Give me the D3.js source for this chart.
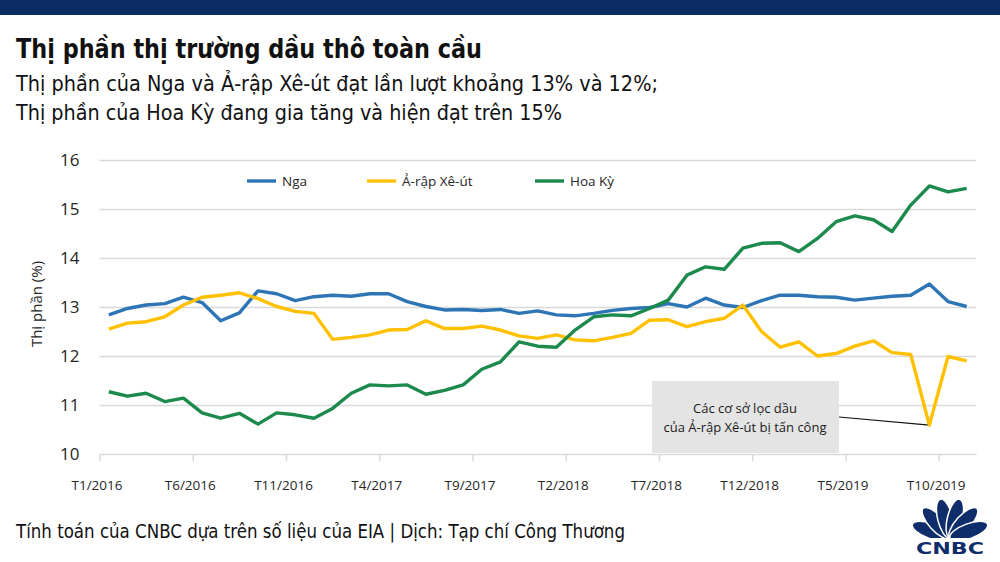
<!DOCTYPE html>
<html>
<head>
<meta charset="utf-8">
<script src="https://cdn.jsdelivr.net/npm/d3@7"></script>
<style>
  body { margin: 0; background: #fff; }
  svg { display: block; }
  .cond { font-family: "Liberation Sans Narrow", "DejaVu Sans Condensed", "Open Sans", sans-serif; }
  .sans { font-family: "Open Sans", "Noto Sans", sans-serif; }
</style>
</head>
<body>
<div id="chart"></div>
<script>
// thang T1/2016 .. T11/2019
const months = [
  "T1/2016","T2/2016","T3/2016","T4/2016","T5/2016","T6/2016","T7/2016","T8/2016","T9/2016","T10/2016","T11/2016","T12/2016",
  "T1/2017","T2/2017","T3/2017","T4/2017","T5/2017","T6/2017","T7/2017","T8/2017","T9/2017","T10/2017","T11/2017","T12/2017",
  "T1/2018","T2/2018","T3/2018","T4/2018","T5/2018","T6/2018","T7/2018","T8/2018","T9/2018","T10/2018","T11/2018","T12/2018",
  "T1/2019","T2/2019","T3/2019","T4/2019","T5/2019","T6/2019","T7/2019","T8/2019","T9/2019","T10/2019","T11/2019"
];
const nga = [12.84,12.97,13.04,13.07,13.20,13.09,12.72,12.88,13.33,13.27,13.13,13.21,
  13.24,13.22,13.27,13.27,13.11,13.01,12.94,12.95,12.93,12.95,12.87,12.92,
  12.84,12.82,12.87,12.93,12.97,12.99,13.07,13.00,13.18,13.04,12.99,13.13,
  13.24,13.24,13.21,13.20,13.14,13.18,13.22,13.24,13.47,13.11,13.01];
const arap = [12.55,12.67,12.70,12.80,13.04,13.20,13.24,13.29,13.17,13.01,12.91,12.87,
  12.34,12.38,12.43,12.53,12.54,12.72,12.56,12.56,12.61,12.53,12.41,12.36,
  12.43,12.33,12.31,12.38,12.46,12.73,12.74,12.60,12.70,12.77,13.04,12.50,
  12.18,12.29,12.00,12.05,12.20,12.31,12.07,12.03,10.59,11.99,11.90];
const hoaky = [11.27,11.18,11.24,11.07,11.14,10.84,10.73,10.83,10.61,10.84,10.80,10.73,
  10.93,11.24,11.41,11.39,11.41,11.22,11.30,11.41,11.73,11.88,12.29,12.20,
  12.18,12.53,12.80,12.84,12.82,12.97,13.14,13.65,13.82,13.77,14.20,14.30,
  14.31,14.13,14.40,14.74,14.86,14.78,14.54,15.08,15.47,15.35,15.42];
const yTicks = [10,11,12,13,14,15,16];
const xTickIdx = [0,5,10,15,20,25,30,35,40,45];
const seriesNames = ["Nga","Ả-rập Xê-út","Hoa Kỳ"];
const seriesColors = ["#2e75b6","#ffc000","#1b8a4c"];

const W = 1000, H = 562;
const plotL = 99.5, plotR = 976, plotT = 160, plotB = 454;

const svg = d3.select("#chart").append("svg")
  .attr("width", W).attr("height", H);
svg.append("rect").attr("width", W).attr("height", H).attr("fill", "#fff");

// thanh tren cung
svg.append("rect").attr("x", 0).attr("y", 0).attr("width", W).attr("height", 15).attr("fill", "#0b2b63");

// tieu de
svg.append("text").attr("class", "cond")
  .attr("x", 16).attr("y", 58)
  .attr("font-size", 26).attr("font-weight", "bold").attr("fill", "#111")
  .attr("textLength", 466).attr("lengthAdjust", "spacingAndGlyphs")
  .text("Thị phần thị trường dầu thô toàn cầu");
svg.append("text").attr("class", "cond")
  .attr("x", 16).attr("y", 91)
  .attr("font-size", 21).attr("fill", "#111")
  .attr("textLength", 642).attr("lengthAdjust", "spacingAndGlyphs")
  .text("Thị phần của Nga và Ả-rập Xê-út đạt lần lượt khoảng 13% và 12%;");
svg.append("text").attr("class", "cond")
  .attr("x", 16).attr("y", 120)
  .attr("font-size", 21).attr("fill", "#111")
  .attr("textLength", 546).attr("lengthAdjust", "spacingAndGlyphs")
  .text("Thị phần của Hoa Kỳ đang gia tăng và hiện đạt trên 15%");

const y = d3.scaleLinear().domain([10, 16]).range([plotB, plotT]);
const x = d3.scaleLinear().domain([0, months.length]).range([plotL, plotR]);

// luoi ngang
const grid = svg.append("g").attr("transform", `translate(${plotL},0)`)
  .call(d3.axisLeft(y).tickValues(yTicks.slice(1)).tickSize(-(plotR - plotL)).tickFormat(""));
grid.select(".domain").remove();
grid.selectAll("line").attr("stroke", "#d9d9d9").attr("stroke-width", 1.5);

// truc y
const yAx = svg.append("g").attr("transform", `translate(${plotL},0)`)
  .call(d3.axisLeft(y).tickValues(yTicks).tickSize(0).tickPadding(20).tickFormat(d3.format("d")));
yAx.select(".domain").remove();
yAx.selectAll("text").attr("class", "sans").attr("font-size", 17).attr("fill", "#262626");

svg.append("text").attr("class", "sans")
  .attr("transform", "translate(42,304) rotate(-90)")
  .attr("text-anchor", "middle").attr("font-size", 15).attr("fill", "#262626")
  .text("Thị phần (%)");

// truc x
const xAx = svg.append("g").attr("transform", `translate(0,${plotB})`)
  .call(d3.axisBottom(x).tickValues(xTickIdx).tickSize(7).tickSizeOuter(0).tickPadding(19)
    .tickFormat(i => months[i]));
xAx.select(".domain").attr("stroke", "#d9d9d9").attr("stroke-width", 1.5);
xAx.selectAll(".tick line").attr("stroke", "#d9d9d9").attr("stroke-width", 1.5);
xAx.selectAll("text").attr("class", "sans").attr("font-size", 13.5).attr("fill", "#262626").attr("dx", -3);

// chu thich su kien
const boxX0 = 652, boxX1 = 839, boxY0 = 381;
svg.append("rect").attr("x", boxX0).attr("y", boxY0)
  .attr("width", boxX1 - boxX0).attr("height", plotB - boxY0 - 1)
  .attr("fill", "#e4e4e4");
const noteTxt = svg.append("text").attr("class", "sans")
  .attr("text-anchor", "middle").attr("font-size", 13).attr("fill", "#1a1a1a");
noteTxt.append("tspan").attr("x", 745).attr("y", 413).text("Các cơ sở lọc dầu");
noteTxt.append("tspan").attr("x", 745).attr("y", 432).text("của Ả-rập Xê-út bị tấn công");
const dipIdx = 44;
svg.append("line")
  .attr("x1", boxX1).attr("y1", 417)
  .attr("x2", x(dipIdx + 0.5)).attr("y2", y(arap[dipIdx]))
  .attr("stroke", "#111").attr("stroke-width", 1.2);

// cac duong
const line = d3.line().x((d, i) => x(i + 0.5)).y(d => y(d));
[nga, arap, hoaky].forEach((s, k) => {
  svg.append("path").datum(s)
    .attr("d", line)
    .attr("fill", "none")
    .attr("stroke", seriesColors[k])
    .attr("stroke-width", 3.4)
    .attr("stroke-linejoin", "round");
});

// legend
const legendX = [247, 367, 535];
const lg = svg.append("g");
seriesNames.forEach((n, k) => {
  lg.append("line").attr("x1", legendX[k]).attr("x2", legendX[k] + 29)
    .attr("y1", 181).attr("y2", 181)
    .attr("stroke", seriesColors[k]).attr("stroke-width", 3.4);
  lg.append("text").attr("class", "sans")
    .attr("x", legendX[k] + 35).attr("y", 186)
    .attr("font-size", 13.5).attr("fill", "#262626")
    .text(n);
});

// nguon
svg.append("text").attr("class", "cond")
  .attr("x", 16).attr("y", 538)
  .attr("font-size", 19).attr("fill", "#111")
  .attr("textLength", 609).attr("lengthAdjust", "spacingAndGlyphs")
  .text("Tính toán của CNBC dựa trên số liệu của EIA | Dịch: Tạp chí Công Thương");

// logo CNBC
const logo = svg.append("g").attr("transform", "translate(950,538)");
const feathers = [-70, -42, -14, 14, 42, 70];
feathers.forEach(a => {
  logo.append("ellipse")
    .attr("cx", 0).attr("cy", -20).attr("rx", 7.5).attr("ry", 20)
    .attr("transform", `rotate(${a})`)
    .attr("fill", "#0f2d6b").attr("stroke", "#fff").attr("stroke-width", 1.5);
});
logo.append("rect").attr("x", -36).attr("y", 0).attr("width", 72).attr("height", 20).attr("fill", "#fff");
logo.append("text")
  .attr("x", 0).attr("y", 16).attr("text-anchor", "middle")
  .attr("font-family", "'DejaVu Sans', sans-serif").attr("font-weight", "bold")
  .attr("font-size", 16).attr("fill", "#0f2d6b")
  .attr("textLength", 68).attr("lengthAdjust", "spacingAndGlyphs")
  .text("CNBC");
</script>
</body>
</html>
